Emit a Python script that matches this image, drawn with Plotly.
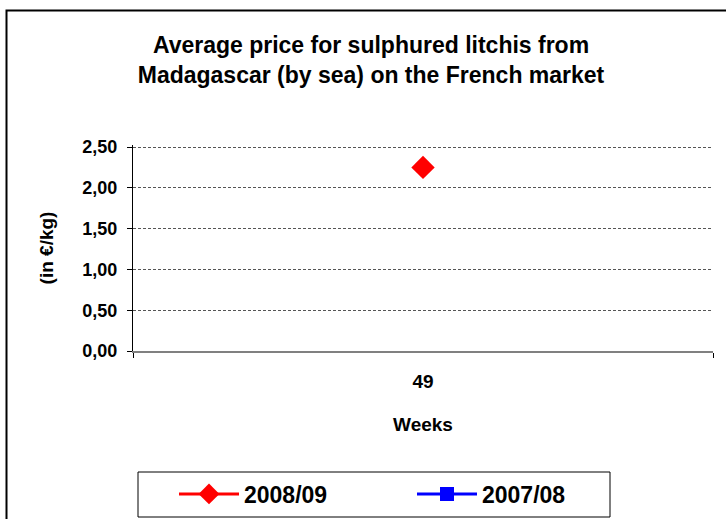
import plotly.graph_objects as go

weeks = ["49"]
price_2008_09 = [2.25]
price_2007_08 = [None]
y_ticks = [0, 0.5, 1.0, 1.5, 2.0, 2.5]

FONT = "Liberation Sans, Arial, sans-serif"

W, H = 726, 519
L, R, T, B = 133, 13, 145, 168
PW, PH = W - L - R, H - T - B
Y_TOP = 2.5 * (PH / (PH - 2))  # leaves 2 px above the 2,50 gridline


def px_x(x):
    return (x - L) / PW


def px_y(y):
    return (H - B - y) / PH


fig = go.Figure()
fig.add_trace(go.Scatter(
    x=weeks, y=price_2008_09, name="2008/09", mode="lines+markers",
    line=dict(color="#ff0000", width=3),
    marker=dict(symbol="diamond", color="#ff0000", size=18),
))
fig.add_trace(go.Scatter(
    x=weeks, y=price_2007_08, name="2007/08", mode="lines+markers",
    line=dict(color="#0000ff", width=3),
    marker=dict(symbol="square", color="#0000ff", size=14),
))

fig.update_layout(
    width=W, height=H,
    margin=dict(l=L, r=R, t=T, b=B, autoexpand=False),
    paper_bgcolor="white", plot_bgcolor="white",
    separators=", ",
    font=dict(family=FONT, color="black"),
    title=dict(
        text="<b>Average price for sulphured litchis from<br>Madagascar (by sea) on the French market</b>",
        x=371 / W, xanchor="center", y=1 - 53 / H, yanchor="middle",
        font=dict(size=23, family=FONT, color="black"),
    ),
    xaxis=dict(
        type="category", range=[-0.5, 0.5], automargin=False,
        showline=True, linecolor="#808080", linewidth=2,
        ticks="outside", tickson="boundaries", ticklen=5, tickcolor="black",
        showgrid=False, ticklabelstandoff=12,
        tickfont=dict(size=19, family=FONT, color="black", weight="bold"),
        title=dict(text="<b>Weeks</b>", font=dict(size=19, family=FONT, color="black"), standoff=27),
    ),
    yaxis=dict(
        range=[0, Y_TOP], tickvals=y_ticks, tickformat=".2f", automargin=False,
        showline=True, linecolor="black", linewidth=1,
        ticks="outside", ticklen=5, tickcolor="black",
        showgrid=True, gridcolor="#555555", griddash="3px,2px", gridwidth=1,
        zeroline=False, ticklabelstandoff=6,
        tickfont=dict(size=18, family=FONT, color="black", weight="bold"),
        title=dict(text="<b>(in €/kg)</b>", font=dict(size=19, family=FONT, color="black"), standoff=23),
    ),
    legend=dict(
        orientation="h", x=px_x(138), xanchor="left", y=px_y(494), yanchor="middle",
        borderwidth=0, bgcolor="rgba(0,0,0,0)",
        font=dict(size=23, family=FONT, color="black", weight="bold"),
        entrywidth=127, itemwidth=60, indentation=36,
    ),
    showlegend=True,
)

# outer chart border
fig.add_shape(
    type="rect", xref="paper", yref="paper",
    x0=px_x(6.5), x1=px_x(740), y0=px_y(540), y1=px_y(10.5),
    line=dict(color="black", width=2), fillcolor="rgba(0,0,0,0)", layer="below",
)
# legend box
fig.add_shape(
    type="rect", xref="paper", yref="paper",
    x0=px_x(138), x1=px_x(610), y0=px_y(517), y1=px_y(472),
    line=dict(color="black", width=1), fillcolor="rgba(0,0,0,0)", layer="below",
)

fig.write_html("out.html", config={"displayModeBar": False},
               post_script="document.body.style.margin='0px';")
